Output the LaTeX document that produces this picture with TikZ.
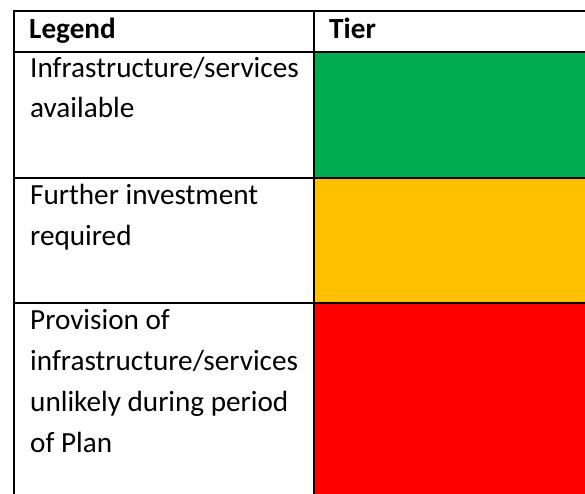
\documentclass[tikz,border=0pt]{standalone}
\usepackage{fontspec}
\setmainfont{Carlito}
\begin{document}
\begin{tikzpicture}[x=1pt,y=-1pt,
  cell/.style={anchor=base west,inner sep=0pt,font=\fontsize{29.2}{40.7}\selectfont,align=left},
  head/.style={cell,font=\fontsize{29.2}{40.7}\selectfont\bfseries},
  rule/.style={line width=2.2pt,black}]
\useasboundingbox (0,0) rectangle (585,494);
\fill[white] (0,0) rectangle (585,494);
% colour cells
\fill[fill={rgb,255:red,0;green,172;blue,79}] (314,52) rectangle (585,178);
\fill[fill={rgb,255:red,255;green,192;blue,0}] (314,178) rectangle (585,303);
\fill[fill={rgb,255:red,255;green,0;blue,0}] (314,303) rectangle (585,494);
% texts (anchored at the baseline of the last line)
\node[head] (hl) at (29,39) {Legend};
\node[head] (ht) at (329,39) {Tier};
\node[cell] (r1) at (30,118) {Infrastructure/services\\available};
\node[cell] (r2) at (30,245) {Further investment\\required};
\node[cell] (r3) at (30,452) {Provision of\\infrastructure/services\\unlikely during period\\of Plan};
% rules
\draw[rule] (14,11) -- (585,11);
\draw[rule] (14,52) -- (585,52);
\draw[rule] (14,178) -- (585,178);
\draw[rule] (14,303) -- (585,303);
\draw[rule] (14,10) -- (14,494);
\draw[rule] (314,10) -- (314,494);
\end{tikzpicture}
\end{document}
